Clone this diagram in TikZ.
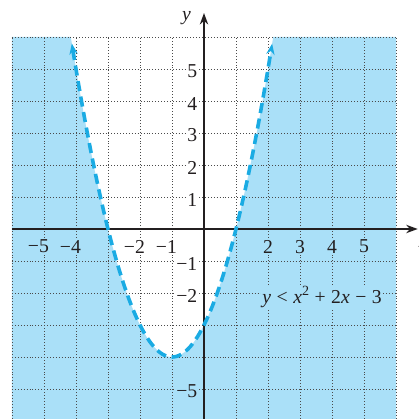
\documentclass[tikz,border=0pt]{standalone}
\usepackage{fontspec}
\setmainfont{Liberation Serif}
\usepackage{tikz}
\usetikzlibrary{arrows.meta}
\definecolor{skyfill}{HTML}{AAE0F8}
\definecolor{curve}{HTML}{1AABE3}
\definecolor{ink}{HTML}{231F20}
\definecolor{gridc}{HTML}{4A4A4A}
\tikzset{
  gridln/.style={draw=gridc, line width=0.6pt, dotted},
  axis/.style={draw=ink, line width=1.6pt, -{Stealth[length=3.6mm, width=2.6mm]}},
  bound/.style={draw=curve, line width=3.2pt, dash pattern=on 9pt off 5pt,
                {Stealth[length=3.4mm, width=2.6mm]}-{Stealth[length=3.4mm, width=2.6mm]}},
  tick/.style={font=\fontsize{17.5}{20}\selectfont, text=ink, inner sep=1pt},
  tickw/.style={tick, fill=white},
  tickb/.style={tick, fill=skyfill}
}
\newcommand\gap{\hspace{0.28em}}
\begin{document}
\begin{tikzpicture}
  \useasboundingbox (-6.375,-5.9375) rectangle (6.71875,7.15625);
  % shaded region y < x^2+2x-3
  \fill[skyfill] (-6,6) -- (-4.1623,6)
    -- plot[domain=-4.1623:2.1623, samples=120] (\x,{\x*\x+2*\x-3})
    -- (2.1623,6) -- (6,6) -- (6,-5.9375) -- (-6,-5.9375) -- cycle;
  % grid
  \foreach \i in {-6,...,6}
    \draw[gridln] (\i,-5.9375) -- (\i,6);
  \foreach \j in {-5,...,6}
    \draw[gridln] (-6,\j) -- (6,\j);
  % tick labels
  \foreach \i/\s in {-5/tickb,-4/tickb,-2/tickw,-1/tickw}
    \node[\s] (xl\i) at (\i,-0.55) {\llap{−}\the\numexpr-\i\relax};
  \foreach \i in {2,...,5}
    \node[tickb] (xl\i) at (\i,-0.55) {\i};
  \foreach \j in {1,...,5}
    \node[tickw, anchor=east] (yl\j) at (-0.17,\j-0.08) {\j};
  \foreach \j/\s in {-1/tickw,-2/tickw,-5/tickb}
    \node[\s, anchor=east] (yl\j) at (-0.17,\j-0.08) {−\the\numexpr-\j\relax};
  % axes
  \coordinate (xs) at (-6,0); \coordinate (xe) at (6.68,0);
  \coordinate (ys) at (0,-5.9375); \coordinate (ye) at (0,6.75);
  \draw[axis] (xs) -- (xe);
  \draw[axis] (ys) -- (ye);
  \node[tick, font=\fontsize{17.5}{20}\selectfont\itshape] (xlab) at (6.85,-0.45) {x};
  \node[tick, font=\fontsize{17.5}{20}\selectfont\itshape] (ylab) at (-0.55,6.6) {y};
  % boundary parabola
  \draw[bound] plot[domain=-4.13:2.13, samples=120] (\x,{\x*\x+2*\x-3});
  \node[tickb] (ineq) at (3.69,-2.12)
    {\textit{y}\gap<\gap\textit{x}\raisebox{0.42em}{\fontsize{12.5}{13}\selectfont 2}\gap+\gap2\textit{x}\gap−\gap3};
\end{tikzpicture}
\end{document}
